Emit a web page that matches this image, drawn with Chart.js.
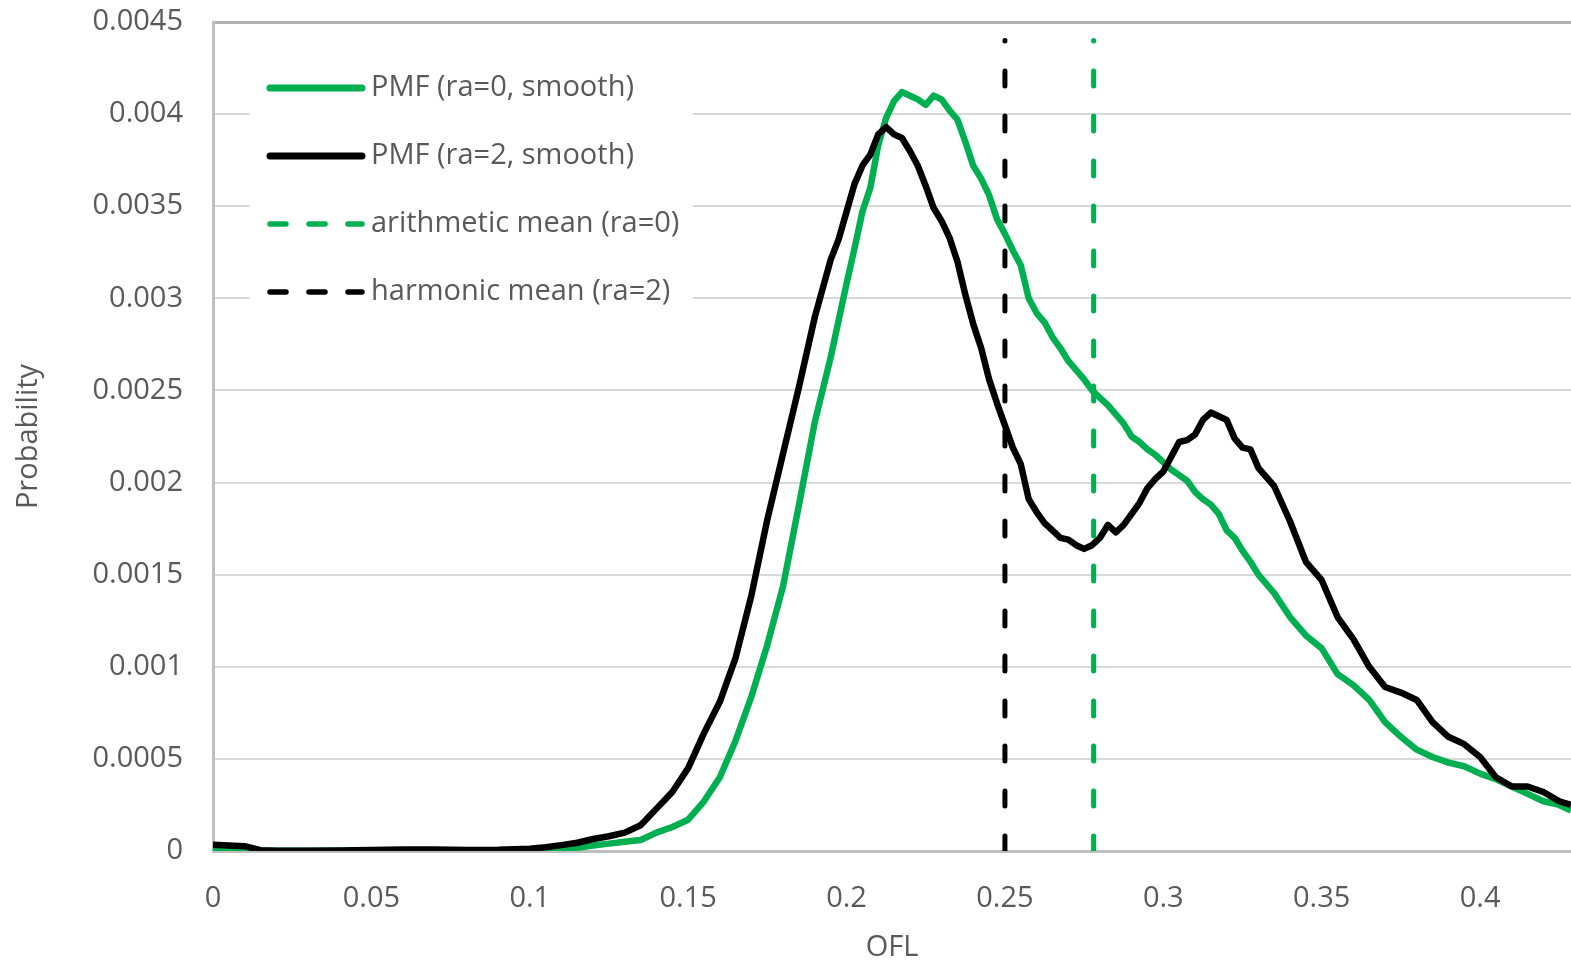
<!DOCTYPE html>
<html>
<head>
<meta charset="utf-8">
<title>PMF of OFL</title>
<script src="https://cdn.jsdelivr.net/npm/chart.js@4.4.1/dist/chart.umd.min.js"></script>
<style>
  html, body { margin: 0; padding: 0; background: #fff; }
  canvas { display: block; }
</style>
</head>
<body>
<canvas id="chart" width="1571" height="967"></canvas>
<script>
// OFL grid (x values)
const ofl = [
  0, 0.005, 0.01, 0.015, 0.02, 0.03, 0.04, 0.05, 0.06, 0.07, 0.08, 0.09, 0.1,
  0.105, 0.11, 0.115, 0.12, 0.125, 0.13, 0.135, 0.14, 0.145, 0.15, 0.155, 0.16,
  0.165, 0.17, 0.175, 0.18, 0.185, 0.19, 0.195,
  0.1975, 0.2, 0.2025, 0.205, 0.2075, 0.21, 0.2125, 0.215, 0.2175, 0.22,
  0.2225, 0.225, 0.2275, 0.23, 0.2325, 0.235, 0.2375, 0.24, 0.2425, 0.245,
  0.2475, 0.25, 0.2525, 0.255, 0.2575, 0.26, 0.2625, 0.265, 0.2675, 0.27,
  0.2725, 0.275, 0.2775, 0.28, 0.2825, 0.285, 0.2875, 0.29, 0.2925, 0.295,
  0.2975, 0.3, 0.3025, 0.305, 0.3075, 0.31, 0.3125, 0.315, 0.3175, 0.32,
  0.3225, 0.325, 0.3275, 0.33,
  0.335, 0.34, 0.345, 0.35, 0.355, 0.36, 0.365, 0.37, 0.375, 0.38, 0.385,
  0.39, 0.395, 0.4, 0.405, 0.41, 0.415, 0.42, 0.425, 0.4287
];

// PMF (ra=0, smooth)
const pmfRa0 = [
  0.000015, 0.00001, 0.000005, 0.000002, 0.000002, 0.000002, 0.000002, 0.000002, 0.000002, 0.000002, 0.000002, 0.000003, 0.000005,
  0.000008, 0.00001, 0.000018, 0.00003, 0.00004, 0.00005, 0.00006, 0.0001, 0.00013, 0.00017, 0.00027, 0.0004,
  0.0006, 0.00084, 0.00112, 0.00144, 0.00188, 0.00233, 0.00268,
  0.00288, 0.00308, 0.00327, 0.00347, 0.0036, 0.00383, 0.00398, 0.00407, 0.00412, 0.0041,
  0.00408, 0.00405, 0.0041, 0.00408, 0.00402, 0.00397, 0.00385, 0.00372, 0.00365, 0.00356,
  0.00343, 0.00335, 0.00326, 0.00318, 0.003, 0.00292, 0.00287, 0.00279, 0.00273, 0.00266,
  0.00261, 0.00256, 0.0025, 0.00246, 0.00242, 0.00237, 0.00232, 0.00225, 0.00222, 0.00218,
  0.00215, 0.00211, 0.00207, 0.00204, 0.00201, 0.00195, 0.00191, 0.00188, 0.00183, 0.00174,
  0.0017, 0.00163, 0.00157, 0.0015,
  0.0014, 0.00127, 0.00117, 0.0011, 0.00096, 0.0009, 0.00082, 0.0007, 0.00062, 0.00055, 0.00051,
  0.00048, 0.00046, 0.00042, 0.00039, 0.00035, 0.00031, 0.00027, 0.00025, 0.00022
];

// PMF (ra=2, smooth)
const pmfRa2 = [
  0.000034, 0.00003, 0.000026, 0.000004, 0.000002, 0.000002, 0.000003, 0.000005, 0.000008, 0.000008, 0.000006, 0.000007, 0.000012,
  0.00002, 0.000032, 0.000045, 0.000065, 0.00008, 0.0001, 0.00014, 0.00023, 0.00032, 0.00045, 0.00064, 0.00081,
  0.00105, 0.00139, 0.0018, 0.00216, 0.00252, 0.0029, 0.00321,
  0.00332, 0.00347, 0.00362, 0.00372, 0.00378, 0.00389, 0.00393, 0.00389, 0.00387, 0.0038,
  0.00372, 0.00361, 0.00349, 0.00342, 0.00333, 0.0032, 0.00302, 0.00286, 0.00273, 0.00256,
  0.00243, 0.00231, 0.00219, 0.0021, 0.00191, 0.00184, 0.00178, 0.00174, 0.0017, 0.00169,
  0.00166, 0.00164, 0.00166, 0.0017, 0.00177, 0.00173, 0.00177, 0.00183, 0.00189, 0.00197,
  0.00202, 0.00206, 0.00214, 0.00222, 0.00223, 0.00226, 0.00234, 0.00238, 0.00236, 0.00234,
  0.00224, 0.00219, 0.00218, 0.00208,
  0.00198, 0.00179, 0.00157, 0.00147, 0.00127, 0.00115, 0.001, 0.00089, 0.00086, 0.00082, 0.0007,
  0.00062, 0.00058, 0.00051, 0.0004, 0.00035, 0.00035, 0.00032, 0.00027, 0.00025
];

const arithMeanRa0 = 0.278;
const harmMeanRa2 = 0.25;
const meanLineTop = 0.0044;

const xTicks = [0, 0.05, 0.1, 0.15, 0.2, 0.25, 0.3, 0.35, 0.4];
const yTicks = [0, 0.0005, 0.001, 0.0015, 0.002, 0.0025, 0.003, 0.0035, 0.004, 0.0045];
const xMax = 0.4287;
const yMax = 0.0045;

const legendLabels = ['PMF (ra=0, smooth)', 'PMF (ra=2, smooth)', 'arithmetic mean (ra=0)', 'harmonic mean (ra=2)'];

const GREEN = '#00b050';
const BLACK = '#000000';
const TEXT = '#595959';
const FONT = '"Open Sans", "Noto Sans", sans-serif';

function pairs(xs, ys) {
  return xs.map((x, i) => ({x: x, y: ys[i]}));
}

// legend drawn inside the plot area, white box over the gridlines
const insideLegend = {
  id: 'insideLegend',
  beforeDatasetsDraw(chart) {
    const ctx = chart.ctx;
    const area = chart.chartArea;
    const boxLeft = area.left + 37;
    const boxTop = area.top + 28;
    ctx.save();
    ctx.fillStyle = '#ffffff';
    ctx.fillRect(boxLeft, boxTop, 443, 275);
    chart.data.datasets.forEach((ds, i) => {
      const y = area.top + 66 + i * 68;
      ctx.beginPath();
      ctx.strokeStyle = ds.borderColor;
      ctx.lineCap = 'round';
      if (ds.borderDash) {
        ctx.lineWidth = 5.5;
        ctx.setLineDash([16, 23]);
      } else {
        ctx.lineWidth = 7;
        ctx.setLineDash([]);
      }
      ctx.moveTo(boxLeft + 20, y);
      ctx.lineTo(boxLeft + 112, y);
      ctx.stroke();
      ctx.setLineDash([]);
      ctx.fillStyle = TEXT;
      ctx.font = '29px ' + FONT;
      ctx.textBaseline = 'middle';
      ctx.textAlign = 'left';
      ctx.fillText(ds.label, boxLeft + 121, y);
    });
    ctx.restore();
  }
};

new Chart(document.getElementById('chart'), {
  type: 'line',
  data: {
    datasets: [
      {
        label: legendLabels[0],
        data: pairs(ofl, pmfRa0),
        borderColor: GREEN,
        borderWidth: 6.5,
        order: 3
      },
      {
        label: legendLabels[1],
        data: pairs(ofl, pmfRa2),
        borderColor: BLACK,
        borderWidth: 6.5,
        order: 2
      },
      {
        label: legendLabels[2],
        data: [{x: arithMeanRa0, y: 0}, {x: arithMeanRa0, y: meanLineTop}],
        borderColor: GREEN,
        borderWidth: 5,
        borderDash: [15, 30],
        borderCapStyle: 'round',
        order: 1
      },
      {
        label: legendLabels[3],
        data: [{x: harmMeanRa2, y: 0}, {x: harmMeanRa2, y: meanLineTop}],
        borderColor: BLACK,
        borderWidth: 5,
        borderDash: [15, 30],
        borderCapStyle: 'round',
        order: 0
      }
    ]
  },
  options: {
    responsive: false,
    animation: false,
    devicePixelRatio: 1,
    layout: {padding: {top: 22, right: 0, bottom: 0, left: 0}},
    elements: {
      point: {radius: 0, hoverRadius: 0},
      line: {tension: 0, fill: false, borderJoinStyle: 'round'}
    },
    plugins: {
      legend: {display: false},
      tooltip: {enabled: false}
    },
    scales: {
      x: {
        type: 'linear',
        min: 0,
        max: xMax,
        afterBuildTicks: (scale) => { scale.ticks = xTicks.map(v => ({value: v})); },
        afterFit: (scale) => {
          scale.height = 116;
          scale.paddingLeft = 0;
          scale.paddingRight = 0;
        },
        grid: {display: false, drawTicks: false},
        border: {display: true, color: '#bfbfbf', width: 3},
        ticks: {
          color: TEXT,
          font: {family: FONT, size: 29},
          padding: 30,
          maxRotation: 0,
          callback: (v) => String(v)
        },
        title: {
          display: true,
          text: 'OFL',
          color: TEXT,
          font: {family: FONT, size: 29},
          padding: {top: 0, bottom: 2}
        }
      },
      y: {
        min: 0,
        max: yMax,
        afterBuildTicks: (scale) => { scale.ticks = yTicks.map(v => ({value: v})); },
        afterFit: (scale) => {
          scale.width = 213;
          scale.paddingTop = 0;
          scale.paddingBottom = 0;
        },
        grid: {
          drawTicks: false,
          color: (ctx) => ctx.tick && ctx.tick.value === yMax ? '#b4b4b4' : (ctx.tick && ctx.tick.value === 0 ? 'rgba(0,0,0,0)' : '#d9d9d9'),
          lineWidth: (ctx) => ctx.tick && ctx.tick.value === yMax ? 3 : 2
        },
        border: {display: true, color: '#bfbfbf', width: 3},
        ticks: {
          color: TEXT,
          font: {family: FONT, size: 29},
          padding: 30,
          callback: (v) => String(v)
        },
        title: {
          display: true,
          text: 'Probability',
          color: TEXT,
          font: {family: FONT, size: 29},
          padding: {top: 11, bottom: 0}
        }
      }
    }
  },
  plugins: [insideLegend]
});
</script>
</body>
</html>
